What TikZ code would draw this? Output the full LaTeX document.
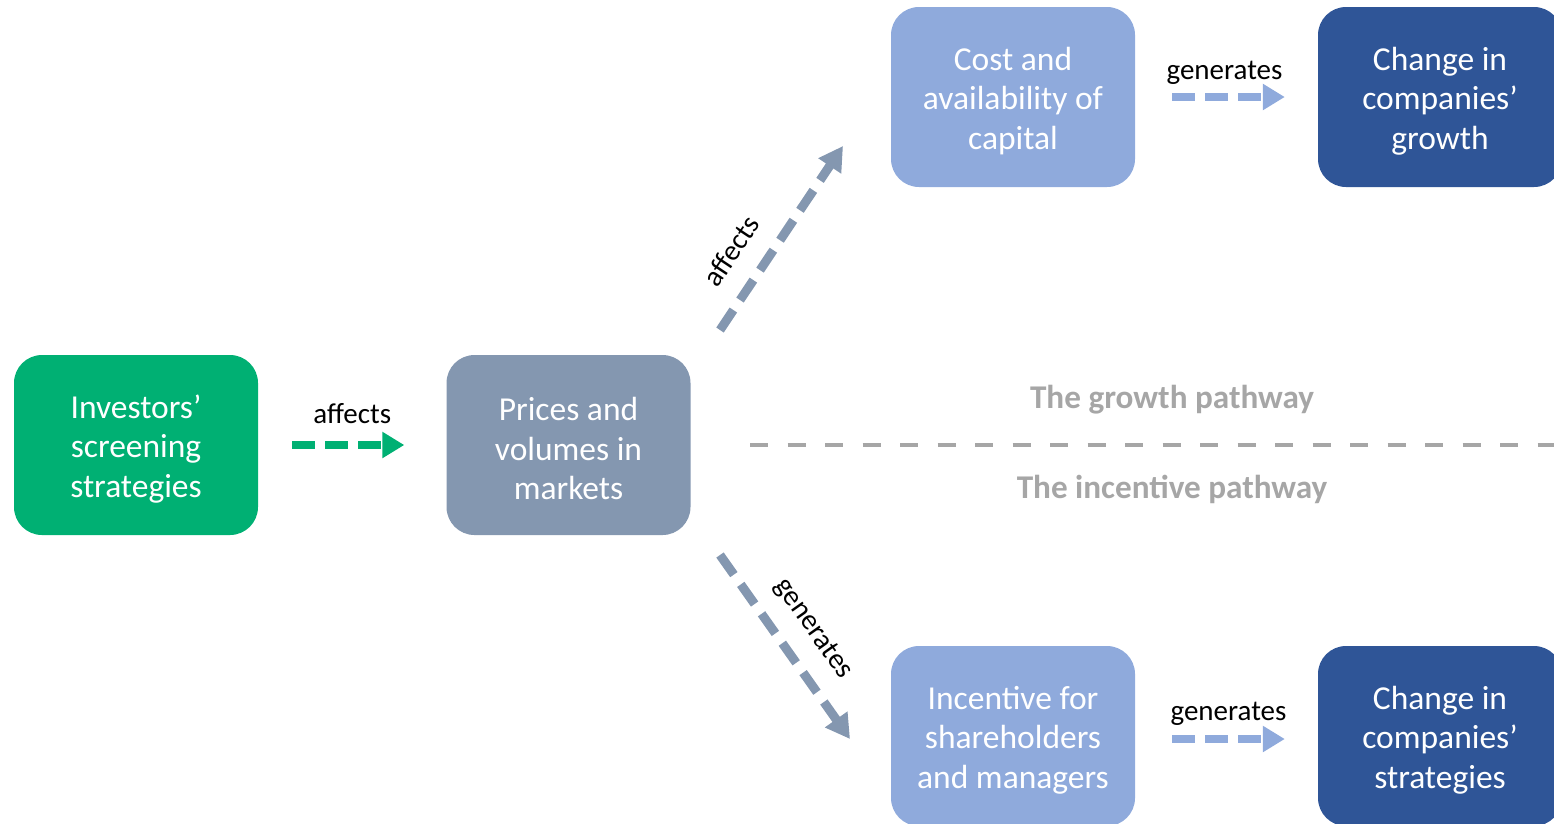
\documentclass[tikz,border=0pt]{standalone}
\usepackage{fontspec}
\setmainfont{Carlito}
\usetikzlibrary{arrows.meta}
\definecolor{invgreen}{RGB}{0,176,115}
\definecolor{mktgrey}{RGB}{132,151,176}
\definecolor{lightblue}{RGB}{143,170,220}
\definecolor{darkblue}{RGB}{47,85,151}
\definecolor{pathgrey}{RGB}{166,166,166}
\begin{document}
\begin{tikzpicture}[x=1pt,y=-1pt,
  box/.style={rounded corners=28pt, minimum width=244pt, minimum height=180pt,
    text width=236pt, align=flush center, text=white, inner sep=0pt,
    font=\fontsize{33.5}{39.5}\selectfont,
    execute at begin node={\rule{0pt}{31pt}}},
  flow/.style={line width=8pt, dash pattern=on 23pt off 10pt,
    -{Triangle[length=22pt,width=25pt]}},
  diag/.style={line width=9pt, dash pattern=on 24pt off 12pt,
    -{Triangle[length=24pt,width=26pt]}},
  lbl/.style={font=\fontsize{29}{32}\selectfont, text=black, inner sep=0pt},
  pathlbl/.style={font=\bfseries\fontsize{33.2}{36}\selectfont, text=pathgrey, inner sep=0pt}]
\useasboundingbox (0,0) rectangle (1554,823);
\clip (0,0) rectangle (1554,823);

% boxes
\node[box, fill=invgreen] (inv) at (136,445) {Investors’\\screening\\strategies};
\node[box, fill=mktgrey] (mkt) at (568.5,445) {Prices and\\volumes in\\markets};
\node[box, fill=lightblue] (cost) at (1013,97) {Cost and\\availability of\\capital};
\node[box, fill=darkblue] (growth) at (1440,97) {Change in\\companies’\\growth};
\node[box, fill=lightblue] (incent) at (1013,736) {Incentive for\\shareholders\\and managers};
\node[box, fill=darkblue] (strat) at (1440,736) {Change in\\companies’\\strategies};

% horizontal connectors
\draw[flow, invgreen, shorten <=34pt, shorten >=42pt] (inv) -- (mkt)
  node[lbl, midway, yshift=31pt] {affects};
\draw[flow, lightblue, shorten <=37pt, shorten >=33pt] (cost.east) -- (growth.west)
  node[lbl, midway, yshift=24pt, xshift=-2pt] {generates};
\draw[flow, lightblue, shorten <=37pt, shorten >=33pt]
  ([yshift=-3pt]incent.east) -- ([yshift=-3pt]strat.west)
  node[lbl, midway, yshift=25pt, xshift=2pt] {generates};

% diagonal connectors
\coordinate (upS) at (720,330);
\coordinate (upE) at (843,146);
\coordinate (dnS) at (720,555);
\coordinate (dnE) at (850,739);
\draw[diag, mktgrey] (upS) -- (upE);
\draw[diag, mktgrey] (dnS) -- (dnE);
\node[lbl, rotate=56.3] (lblup) at (731,251) {affects};
\node[lbl, rotate=-54.7] (lbldn) at (813,629) {generates};

% pathway divider
\coordinate (divS) at (750,445);
\coordinate (divE) at (1554,445);
\draw[pathgrey, line width=4pt, dash pattern=on 18pt off 19.5pt] (divS) -- (divE);
\node[pathlbl] (growthpath) at (1172,400) {The growth pathway};
\node[pathlbl] (incentpath) at (1172,489) {The incentive pathway};
\end{tikzpicture}
\end{document}
